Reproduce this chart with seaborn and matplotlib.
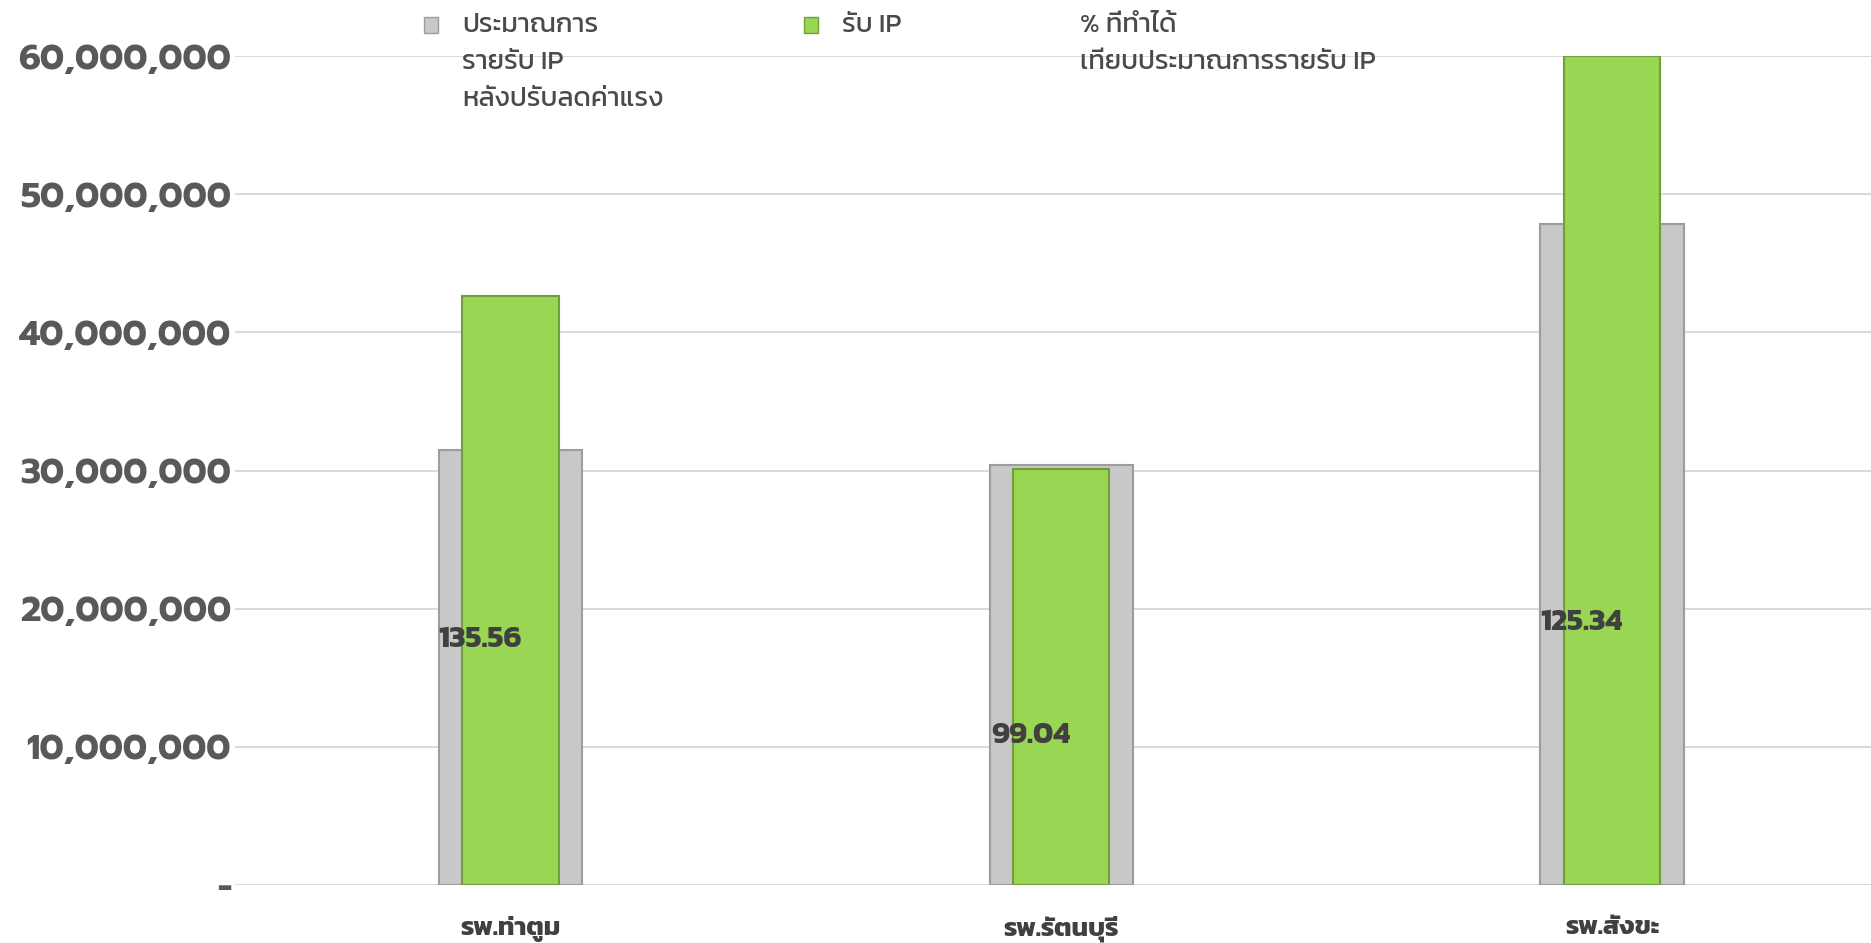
import matplotlib
matplotlib.use("Agg")
import matplotlib.pyplot as plt
from matplotlib.patches import Patch, Rectangle
from matplotlib.legend_handler import HandlerPatch
from matplotlib.ticker import FuncFormatter
import pandas as pd
import seaborn as sns

# ข้อมูลรายรับ IP แยกตามโรงพยาบาล
hospitals = ["รพ.ท่าตูม", "รพ.รัตนบุรี", "รพ.สังขะ"]
budget_ip = [31450000, 30420000, 47850000]     # ประมาณการรายรับ IP หลังปรับลดค่าแรง
actual_ip = [42630000, 30130000, 59980000]     # รับ IP
percent_done = [135.56, 99.04, 125.34]         # % ที่ทำได้
label_height = [17800000, 10800000, 19000000]  # ระดับที่วางป้าย %

legend_labels = ["ประมาณการ\nรายรับ IP\nหลังปรับลดค่าแรง", "รับ IP",
                 "% ที่ทำได้\nเทียบประมาณการรายรับ IP"]

GREY = "#C8C8C8"
GREEN = "#98D654"
TEXT = "#404040"

df = pd.DataFrame({"hospital": hospitals, "budget": budget_ip, "actual": actual_ip})

sns.set_theme(style="white")
plt.rcParams["font.family"] = ["Kanit", "DejaVu Sans"]

fig = plt.figure(figsize=(18.71, 9.43), dpi=100)
ax = fig.add_axes([235 / 1871, 58 / 943, 1 - 235 / 1871, (885 - 56) / 943])

sns.barplot(data=df, x="hospital", y="budget", color=GREY, width=0.26,
            edgecolor="#9C9C9C", linewidth=1.5, saturation=1, ax=ax)
sns.barplot(data=df, x="hospital", y="actual", color=GREEN, width=0.175,
            edgecolor="#6F9F3B", linewidth=1.5, saturation=1, ax=ax)

# ป้าย % ที่ทำได้
for i, (p, h) in enumerate(zip(percent_done, label_height)):
    ax.text(i - 0.055, h, f"{p:.2f}", ha="center", va="center",
            fontsize=22, fontweight="bold", color=TEXT)

ax.set_ylim(0, 60000000)
ax.set_xlim(-0.5, 2.47)
ax.set_yticks(range(0, 60000001, 10000000))
ax.yaxis.set_major_formatter(FuncFormatter(lambda v, _: "-" if v == 0 else f"{v:,.0f}"))
ax.grid(axis="y", color="#D9D9D9", linewidth=1.4)
ax.set_axisbelow(True)
sns.despine(ax=ax, left=True, bottom=True)
ax.set_xlabel("")
ax.set_ylabel("")
ax.tick_params(axis="y", length=0, pad=3, labelsize=25, labelcolor="#595959")
ax.tick_params(axis="x", length=0, pad=22, labelsize=19, labelcolor=TEXT)
for t in ax.get_yticklabels():
    t.set_family(["Prompt", "DejaVu Sans"])
    t.set_fontweight("bold")
for t in ax.get_xticklabels():
    t.set_fontweight("bold")


# กล่องสัญลักษณ์ใน legend ให้อยู่ระดับบรรทัดแรก
def top_box(legend, orig_handle, xdescent, ydescent, width, height, fontsize):
    return Rectangle((-xdescent, -ydescent + 27), width, height)


# ทุกป้ายให้มี 3 บรรทัดเท่ากัน คอลัมน์จะได้ชิดบนเหมือนกัน
padded = [lab + "\n " * (2 - lab.count("\n")) for lab in legend_labels]
handles = [Patch(facecolor=GREY, edgecolor="#9C9C9C"),
           Patch(facecolor=GREEN, edgecolor="#6F9F3B"),
           Patch(facecolor="none", edgecolor="none")]
leg = fig.legend(handles, padded, loc="upper left", bbox_to_anchor=(424 / 1871, 1 - 14 / 943),
                 ncol=3, frameon=False, fontsize=19.5, handlelength=0.5, handleheight=0.5,
                 handletextpad=0.9, columnspacing=5.2, borderaxespad=0, borderpad=0,
                 handler_map={Patch: HandlerPatch(patch_func=top_box)})
for t in leg.get_texts():
    t.set_color("#4A4A4A")
    t.set_linespacing(1.72)

fig.savefig("out.png", dpi=100)
